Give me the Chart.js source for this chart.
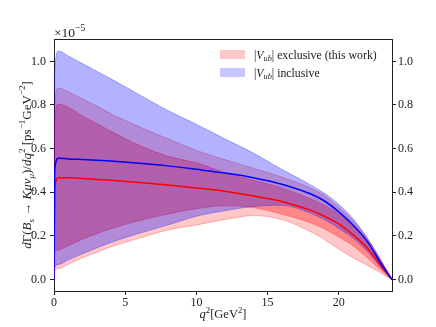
<!DOCTYPE html>
<html>
<head>
<meta charset="utf-8">
<script src="https://cdn.jsdelivr.net/npm/chart.js@4.4.0/dist/chart.umd.min.js"></script>
<style>
  html, body { margin: 0; padding: 0; background: #fff; }
</style>
</head>
<body>
<canvas id="myChart" width="436" height="327"></canvas>
<script>
// q^2 grid in GeV^2
const q2 = [0, 0.05, 0.3, 1, 2, 3, 4, 6, 8, 10, 12, 14, 16, 18, 19, 20, 21, 22, 23, 23.74];

// central curves, units of 1e-5
const inclusiveCentral = [0, 0.5, 0.556, 0.553, 0.55, 0.547, 0.543, 0.533, 0.521, 0.505, 0.488, 0.467, 0.437, 0.393, 0.36, 0.31, 0.25, 0.175, 0.07, 0];
const exclusiveCentral = [0, 0.42, 0.467, 0.466, 0.463, 0.459, 0.455, 0.445, 0.433, 0.42, 0.405, 0.383, 0.358, 0.318, 0.29, 0.255, 0.205, 0.145, 0.06, 0];

// inclusive band
const inclusiveUpper = [0, 0.95, 1.048, 1.025, 0.99, 0.955, 0.92, 0.847, 0.775, 0.712, 0.645, 0.58, 0.505, 0.435, 0.395, 0.345, 0.28, 0.19, 0.085, 0];
const inclusiveLower = [0, 0.055, 0.068, 0.09, 0.118, 0.145, 0.17, 0.212, 0.25, 0.29, 0.315, 0.335, 0.34, 0.305, 0.275, 0.235, 0.19, 0.13, 0.052, 0];

// exclusive bands (inner and outer)
const exclusiveInnerUpper = [0, 0.73, 0.804, 0.79, 0.75, 0.715, 0.68, 0.615, 0.565, 0.535, 0.49, 0.455, 0.42, 0.37, 0.34, 0.3, 0.245, 0.175, 0.08, 0];
const exclusiveInnerLower = [0, 0.12, 0.135, 0.155, 0.185, 0.21, 0.233, 0.27, 0.3, 0.325, 0.338, 0.33, 0.3, 0.26, 0.232, 0.195, 0.155, 0.1, 0.04, 0];
const exclusiveOuterUpper = [0, 0.8, 0.878, 0.86, 0.828, 0.795, 0.76, 0.7, 0.645, 0.592, 0.55, 0.51, 0.47, 0.42, 0.385, 0.33, 0.27, 0.19, 0.085, 0];
const exclusiveOuterLower = [0, 0.04, 0.05, 0.07, 0.1, 0.125, 0.15, 0.19, 0.227, 0.25, 0.275, 0.293, 0.275, 0.22, 0.183, 0.14, 0.1, 0.066, 0.028, 0];

const xTicks = [0, 5, 10, 15, 20];
const yTicks = [0, 0.2, 0.4, 0.6, 0.8, 1.0];

const SERIF = '"Liberation Serif", "DejaVu Serif", serif';

const pts = (vals) => q2.map((x, i) => ({ x: x, y: vals[i] }));

const edge = (vals, color, fill) => ({
  data: pts(vals),
  borderColor: color,
  borderWidth: 0.8,
  backgroundColor: fill ? fill.color : 'transparent',
  fill: fill ? fill.target : false,
  pointRadius: 0,
  cubicInterpolationMode: 'monotone',
});

// draws text with sub/superscripts; parts = [text, kind, italic]
function drawRich(ctx, parts, x, y, size, align) {
  const segs = parts.map(([t, k, it]) => {
    const s = k === 'n' ? size : size * 0.7;
    const font = (it ? 'italic ' : '') + s + 'px ' + SERIF;
    ctx.font = font;
    return { t: t, k: k, font: font, w: ctx.measureText(t).width };
  });
  const total = segs.reduce((a, s) => a + s.w, 0);
  let cx = align === 'center' ? x - total / 2 : x;
  ctx.textAlign = 'left';
  ctx.textBaseline = 'alphabetic';
  segs.forEach(s => {
    ctx.font = s.font;
    const dy = s.k === 'sub' ? size * 0.25 : s.k === 'sup' ? -size * 0.42 : 0;
    ctx.fillText(s.t, cx, y + dy);
    cx += s.w;
  });
}

const mathText = {
  id: 'mathText',
  afterDraw(chart) {
    const ctx = chart.ctx;
    const a = chart.chartArea;
    ctx.save();
    ctx.fillStyle = '#222';

    // top spine
    ctx.strokeStyle = '#222';
    ctx.lineWidth = 1;
    ctx.beginPath();
    ctx.moveTo(a.left, a.top + 0.5);
    ctx.lineTo(a.right, a.top + 0.5);
    ctx.stroke();

    // offset text
    drawRich(ctx, [['×', 'n'], ['10', 'n'], ['−5', 'sup']], a.left, 36.5, 13.5, 'left');

    // x title
    drawRich(ctx, [['q', 'n', true], ['2', 'sup'], ['[GeV', 'n'], ['2', 'sup'], [']', 'n']], (a.left + a.right) / 2, 318, 12.5, 'center');

    // y title
    ctx.save();
    ctx.translate(30.5, (a.top + a.bottom) / 2);
    ctx.rotate(-Math.PI / 2);
    drawRich(ctx, [
      ['d', 'n', true], ['Γ(', 'n'], ['B', 'n', true], ['s', 'sub', true], [' → ', 'n'],
      ['Kμν', 'n', true], ['μ', 'sub', true], [')/', 'n'], ['dq', 'n', true], ['2', 'sup'],
      [' [ps', 'n'], ['−1', 'sup'], ['GeV', 'n'], ['−2', 'sup'], [']', 'n']
    ], 0, 0, 13, 'center');
    ctx.restore();

    // legend
    const rows = [
      { fill: 'rgba(255,0,0,0.22)', y: 50, parts: [['|', 'n'], ['V', 'n', true], ['ub', 'sub', true], ['| exclusive (this work)', 'n']] },
      { fill: 'rgba(0,0,255,0.22)', y: 68, parts: [['|', 'n'], ['V', 'n', true], ['ub', 'sub', true], ['| inclusive', 'n']] },
    ];
    rows.forEach(r => {
      ctx.fillStyle = r.fill;
      ctx.fillRect(220, r.y, 25, 9);
      ctx.fillStyle = '#222';
      drawRich(ctx, r.parts, 254, r.y + 8.5, 11.8, 'left');
    });
    ctx.restore();
  }
};

const tickGrid = { display: true, drawOnChartArea: false, drawTicks: true, tickLength: 4, color: '#222', lineWidth: 1 };
const tickFont = { family: SERIF, size: 12 };

const ctx = document.getElementById('myChart').getContext('2d');
const chart = new Chart(ctx, {
  type: 'line',
  data: {
    datasets: [
      { data: pts(inclusiveCentral), borderColor: 'rgb(0,0,255)', borderWidth: 1.5, pointRadius: 0, fill: false, cubicInterpolationMode: 'monotone' },
      { data: pts(exclusiveCentral), borderColor: 'rgb(255,0,0)', borderWidth: 1.5, pointRadius: 0, fill: false, cubicInterpolationMode: 'monotone' },
      edge(inclusiveUpper, 'rgba(0,0,255,0.35)', { target: 3, color: 'rgba(0,0,255,0.3)' }),
      edge(inclusiveLower, 'rgba(0,0,255,0.35)'),
      edge(exclusiveInnerUpper, 'rgba(255,0,0,0.4)', { target: 5, color: 'rgba(255,0,0,0.32)' }),
      edge(exclusiveInnerLower, 'rgba(255,0,0,0.4)'),
      edge(exclusiveOuterUpper, 'rgba(255,0,0,0.35)', { target: 7, color: 'rgba(255,0,0,0.22)' }),
      edge(exclusiveOuterLower, 'rgba(255,0,0,0.35)'),
    ]
  },
  options: {
    responsive: false,
    animation: false,
    devicePixelRatio: 1,
    layout: { padding: { top: 39, left: 0, right: 0, bottom: 0 } },
    plugins: { legend: { display: false }, tooltip: { enabled: false } },
    scales: {
      x: {
        type: 'linear',
        min: 0,
        max: 23.74,
        afterBuildTicks: s => { s.ticks = xTicks.map(v => ({ value: v })); },
        afterFit: s => { s.height = 36; },
        ticks: { font: tickFont, color: '#222', padding: 1, maxRotation: 0 },
        grid: tickGrid,
        border: { display: true, color: '#222', width: 1 },
      },
      y: {
        type: 'linear',
        position: 'left',
        min: -0.0525,
        max: 1.1025,
        afterBuildTicks: s => { s.ticks = yTicks.map(v => ({ value: v })); },
        afterFit: s => { s.width = 54; },
        ticks: { font: tickFont, color: '#222', padding: 4, callback: v => v.toFixed(1) },
        grid: tickGrid,
        border: { display: true, color: '#222', width: 1 },
      },
      y2: {
        type: 'linear',
        position: 'right',
        min: -0.0525,
        max: 1.1025,
        afterBuildTicks: s => { s.ticks = yTicks.map(v => ({ value: v })); },
        afterFit: s => { s.width = 44; },
        ticks: { font: tickFont, color: '#222', padding: 2, callback: v => v.toFixed(1) },
        grid: tickGrid,
        border: { display: true, color: '#222', width: 1 },
      },
    }
  },
  plugins: [mathText]
});
</script>
</body>
</html>
